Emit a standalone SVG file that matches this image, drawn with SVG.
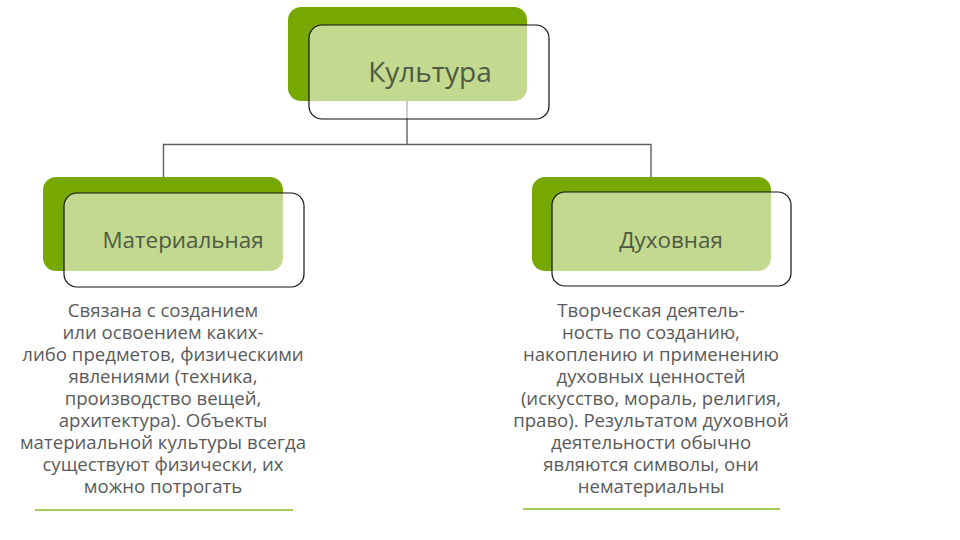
<svg xmlns="http://www.w3.org/2000/svg" width="960" height="540" viewBox="0 0 960 540">
<style>
.back{fill:#77a800}
.front{fill:#ffffff;fill-opacity:0.56;stroke:#111111;stroke-width:1.2}
.title{font-family:"Open Sans","Noto Sans",sans-serif;fill:#4e5a44;text-anchor:middle}
.para{font-family:"Open Sans","Noto Sans",sans-serif;font-size:18.6px;fill:#5a5a5a;text-anchor:middle}
.conn{stroke:#5f5f5f;stroke-width:1.4;fill:none}
.rule{stroke:#a4cc5a;stroke-width:2.2}
</style>
<rect width="960" height="540" fill="#ffffff"/>
<g id="connectors">
<path class="conn" d="M407 101V145"/>
<path class="conn" d="M163.5 178V144.5H651V178"/>
</g>
<g id="node-kultura">
<rect class="back" x="288" y="7" width="239" height="94" rx="13"/>
<rect class="front" x="309" y="25" width="240" height="94" rx="13"/>
<text class="title" x="430" y="82" font-size="28">Культура</text>
</g>
<g id="node-material">
<rect class="back" x="43" y="177" width="240" height="94" rx="13"/>
<rect class="front" x="64" y="193" width="240" height="94" rx="13"/>
<text class="title" x="183" y="248" font-size="22.4">Материальная</text>
</g>
<g id="node-spiritual">
<rect class="back" x="532" y="177" width="239" height="94" rx="13"/>
<rect class="front" x="552" y="192" width="239" height="94" rx="13"/>
<text class="title" x="671" y="248" font-size="22.4">Духовная</text>
</g>
<g id="text-material">
<text class="para" x="163" y="317">Связана с созданием</text>
<text class="para" x="163" y="339">или освоением каких-</text>
<text class="para" x="163" y="361">либо предметов, физическими</text>
<text class="para" x="163" y="383">явлениями (техника,</text>
<text class="para" x="163" y="405">производство вещей,</text>
<text class="para" x="163" y="427">архитектура). Объекты</text>
<text class="para" x="163" y="449">материальной культуры всегда</text>
<text class="para" x="163" y="471">существуют физически, их</text>
<text class="para" x="163" y="493">можно потрогать</text>
<line class="rule" x1="35" y1="510" x2="293" y2="510"/>
</g>
<g id="text-spiritual">
<text class="para" x="651" y="317">Творческая деятель-</text>
<text class="para" x="651" y="339">ность по созданию,</text>
<text class="para" x="651" y="361">накоплению и применению</text>
<text class="para" x="651" y="383">духовных ценностей</text>
<text class="para" x="651" y="405">(искусство, мораль, религия,</text>
<text class="para" x="651" y="427">право). Результатом духовной</text>
<text class="para" x="651" y="449">деятельности обычно</text>
<text class="para" x="651" y="471">являются символы, они</text>
<text class="para" x="651" y="493">нематериальны</text>
<line class="rule" x1="523" y1="509" x2="780" y2="509"/>
</g>
</svg>
